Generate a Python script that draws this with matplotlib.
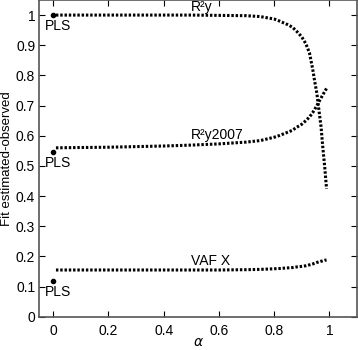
import numpy as np
import matplotlib
matplotlib.use("Agg")
import matplotlib.pyplot as plt

plt.rcParams['font.family'] = ['Liberation Sans', 'DejaVu Sans']

# valeurs
alpha = [0.01, 0.1, 0.2, 0.3, 0.4, 0.5, 0.6, 0.7, 0.75, 0.8, 0.82, 0.85, 0.866,
         0.88, 0.9, 0.915, 0.928, 0.94, 0.946, 0.955, 0.962, 0.97, 0.976, 0.983, 0.99]
r2y = [1.0, 1.0, 1.0, 1.0, 1.0, 1.0, 0.999, 0.998, 0.995, 0.987, 0.98, 0.968, 0.96,
       0.948, 0.928, 0.905, 0.875, 0.82, 0.786, 0.74, 0.688, 0.63, 0.566, 0.5, 0.424]
r2y2007 = [0.56, 0.561, 0.562, 0.564, 0.566, 0.569, 0.573, 0.579, 0.584, 0.595, 0.601,
           0.612, 0.618, 0.627, 0.638, 0.65, 0.662, 0.677, 0.686, 0.7, 0.712, 0.725,
           0.735, 0.746, 0.757]
vafx = [0.155, 0.155, 0.155, 0.155, 0.155, 0.155, 0.155, 0.156, 0.157, 0.159, 0.16,
        0.162, 0.163, 0.165, 0.167, 0.169, 0.172, 0.175, 0.177, 0.18, 0.182, 0.184,
        0.185, 0.187, 0.188]
pls = [1.0, 0.545, 0.118]
labels = ['R²y', 'R²y2007', 'VAF X']
label_y = [1.005, 0.578, 0.162]

fig = plt.figure(figsize=(3.58, 3.5), dpi=100)
ax = fig.add_axes([0.11, 0.095, 0.887, 0.905])

for serie in [r2y, r2y2007, vafx]:
    ax.plot(alpha, serie, color='black', lw=2.2, dashes=(0.8, 0.6))

for v in pls:
    ax.plot(0, v, 'o', color='black', ms=3)
    ax.text(-0.03, v - 0.012, 'PLS', fontsize=10, ha='left', va='top')

for lab, y in zip(labels, label_y):
    ax.text(0.5, y, lab, fontsize=10, ha='left', va='bottom')

ax.set_xlim(-0.05, 1.1)
ax.set_ylim(0, 1.05)
ax.set_xticks([0, 0.2, 0.4, 0.6, 0.8, 1])
ax.set_xticklabels(['0', '0.2', '0.4', '0.6', '0.8', '1'])
ax.set_yticks(np.arange(0, 1.01, 0.1))
ax.set_yticklabels(['0', '0.1', '0.2', '0.3', '0.4', '0.5', '0.6', '0.7', '0.8', '0.9', '1'])
ax.tick_params(direction='in', top=True, right=True, labelsize=10, length=4)
ax.tick_params(axis='x', pad=5)
ax.tick_params(axis='y', pad=3)
ax.set_xlabel(r'$\alpha$', fontsize=10, labelpad=-2)
ax.set_ylabel('Fit estimated-observed', fontsize=9.5, labelpad=2)
for s in ax.spines.values():
    s.set_color('#555555')
    s.set_linewidth(1.2)

fig.savefig('out.png', dpi=100)
